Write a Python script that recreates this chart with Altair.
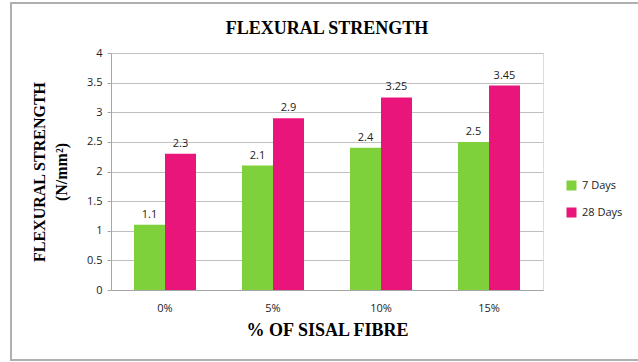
import altair as alt
import pandas as pd

categories = ["0%", "5%", "10%", "15%"]
series = ["7 Days", "28 Days"]
days7 = [1.1, 2.1, 2.4, 2.5]
days28 = [2.3, 2.9, 3.25, 3.45]
colors = ["#7FD13B", "#EA157A"]
y_ticks = [0, 0.5, 1, 1.5, 2, 2.5, 3, 3.5, 4]

rows = []
for c, a, b in zip(categories, days7, days28):
    rows.append({"fibre": c, "series": "7 Days", "value": a, "label": f"{a:g}"})
    rows.append({"fibre": c, "series": "28 Days", "value": b, "label": f"{b:g}"})
df = pd.DataFrame(rows)

x = alt.X("fibre:N", sort=categories,
          scale=alt.Scale(paddingInner=0.426, paddingOuter=0.213),
          axis=alt.Axis(title="% OF SISAL FIBRE", labelAngle=0, ticks=False,
                        labelPadding=12, titlePadding=8, domainColor="#a6a6a6",
                        labelFont="Open Sans", labelFontSize=11, labelColor="#222",
                        titleFont="Liberation Serif", titleFontSize=18,
                        titleFontWeight="bold", titleColor="#000"))
xo = alt.XOffset("series:N", sort=series)
y = alt.Y("value:Q",
          scale=alt.Scale(domain=[0, 4]),
          axis=alt.Axis(title=["FLEXURAL STRENGTH", "(N/mm²)"], values=y_ticks, format="~g",
                        tickSize=4, tickColor="#a6a6a6", domainColor="#a6a6a6",
                        gridColor="#c0c0c0", labelPadding=5, labelOverlap=False,
                        labelFont="Open Sans", labelFontSize=11, labelColor="#222",
                        titleFont="Liberation Serif", titleFontSize=16,
                        titleFontWeight="bold", titleColor="#000", titlePadding=17,
                        titleLineHeight=22))
color = alt.Color("series:N", sort=series,
                  scale=alt.Scale(domain=series, range=colors),
                  legend=alt.Legend(title=None, orient="none", legendX=455, legendY=127,
                                    symbolType="square", symbolSize=100, symbolStrokeWidth=0,
                                    labelFont="Open Sans", labelFontSize=11, labelColor="#222",
                                    rowPadding=15, labelOffset=5))

base = alt.Chart(df)
bars = base.mark_bar().encode(x=x, xOffset=xo, y=y, color=color)
labels = base.mark_text(dy=-10, font="Open Sans", fontSize=11, color="#222").encode(
    x=x, xOffset=xo, y=y, text="label:N")
border = base.mark_rect(fill=None, stroke="#b0b0b0", strokeWidth=1.5).encode(
    x=alt.value(-100), x2=alt.value(560), y=alt.value(-50), y2=alt.value(307))

chart = alt.layer(border, bars, labels).properties(
    width=432, height=237,
    title=alt.Title("FLEXURAL STRENGTH", font="Liberation Serif", fontSize=18,
                    fontWeight="bold", color="#000", anchor="middle", offset=14, dy=50),
    autosize=alt.AutoSizeParams(type="none"),
    padding={"left": 111, "top": 53, "right": 95, "bottom": 72},
).configure_view(stroke=None).configure(background="white")

chart.save("out.html", embed_options={"renderer": "svg", "actions": False})
